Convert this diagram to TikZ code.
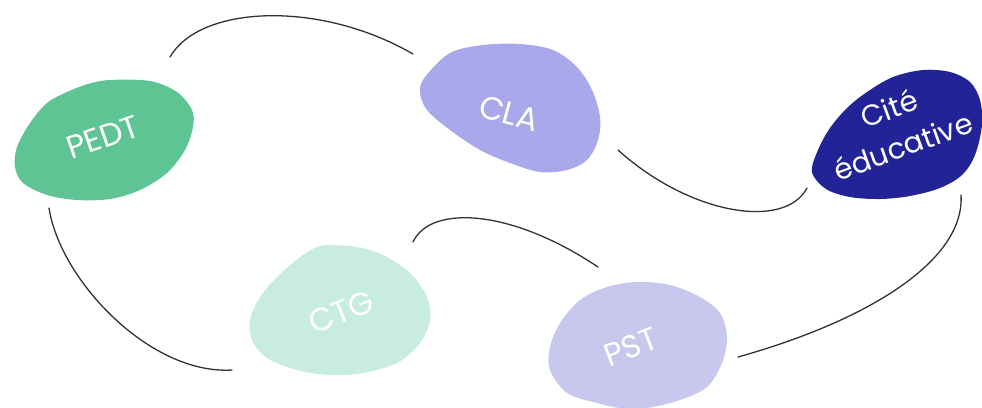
\documentclass[tikz,border=0pt]{standalone}
\usepackage{fontspec}
\setmainfont{Poppins}
\definecolor{pedtc}{RGB}{94,196,148}
\definecolor{clac}{RGB}{168,168,234}
\definecolor{citec}{RGB}{35,35,152}
\definecolor{ctgc}{RGB}{200,236,221}
\definecolor{pstc}{RGB}{200,200,238}
\definecolor{linkc}{RGB}{50,50,50}
\begin{document}
\begin{tikzpicture}[x=1pt,y=-1pt,
  blobtxt/.style={text=white,font=\fontsize{32}{34}\selectfont,align=center,inner sep=0pt},
  blob/.style={smooth cycle, tension=0.55},
  link/.style={draw=linkc,line width=1.3pt,line cap=round}]
\useasboundingbox (0,0) rectangle (982,407);
% blobs
\fill[pedtc] plot[blob] coordinates {(110,80) (150,81) (177,92) (192,110) (193,127) (185,150) (167,173) (140,190) (110,199) (77,200) (47,195) (23,183) (15,167) (17,147) (30,123) (47,103) (67,92) (88,84)};
\fill[clac] plot[blob] coordinates {(425,77) (450,53) (483,45) (520,44) (553,50) (577,67) (592,90) (600,117) (598,140) (587,160) (567,170) (540,172) (510,163) (480,150) (450,130) (427,110) (420,92)};
\fill[citec] plot[blob] coordinates {(812,172) (818,150) (830,128) (847,108) (867,92) (893,77) (923,70) (950,72) (970,82) (980,100) (982,125) (975,155) (962,175) (940,188) (910,196) (880,199) (850,197) (826,189)};
\fill[ctgc] plot[blob] coordinates {(330,245) (357,247) (383,255) (410,273) (427,297) (430,320) (420,343) (397,363) (363,373) (330,375) (297,370) (267,358) (252,340) (250,320) (260,297) (277,277) (300,257) (317,247)};
\fill[pstc] plot[blob] coordinates {(637,282) (670,285) (700,297) (720,313) (727,337) (722,363) (707,387) (680,400) (647,408) (620,408) (597,403) (567,393) (550,370) (550,347) (560,323) (580,300) (607,287)};
% labels
\node[blobtxt,rotate=19] (pedt) at (103,137) {PEDT};
\node[blobtxt,rotate=-15] (cla) at (509,113) {CLA};
\node[blobtxt,rotate=20,font=\fontsize{29}{40}\selectfont] (cite) at (896,127) {Cité\\éducative};
\node[blobtxt,rotate=22] (ctg) at (341,312) {CTG};
\node[blobtxt,rotate=21] (pst) at (631,347) {PST};
% connector ends
\coordinate (a1) at (170,57);  \coordinate (a2) at (413,54);
\coordinate (b1) at (618,150); \coordinate (b2) at (807,188);
\coordinate (c1) at (961,195); \coordinate (c2) at (738,357);
\coordinate (d1) at (49,208);  \coordinate (d2) at (232,370);
\coordinate (e1) at (413,242); \coordinate (e2) at (598,267);
% connectors
\draw[link] (a1) .. controls (200,5) and (320,0) .. (a2);
\draw[link] (b1) .. controls (690,215) and (785,230) .. (b2);
\draw[link] (c1) .. controls (965,260) and (870,320) .. (c2);
\draw[link] (d1) .. controls (60,280) and (150,375) .. (d2);
\draw[link] (e1) .. controls (430,205) and (510,208) .. (e2);
\end{tikzpicture}
\end{document}
